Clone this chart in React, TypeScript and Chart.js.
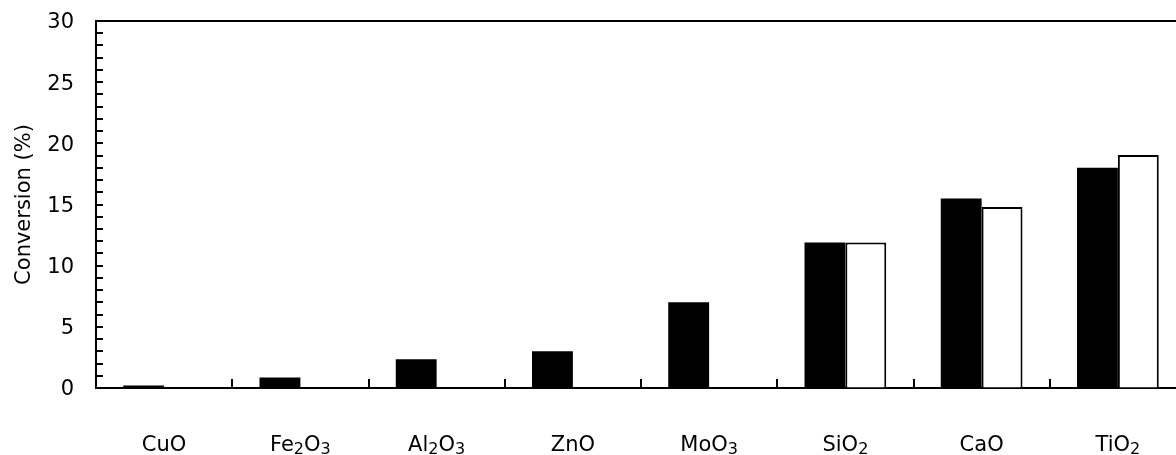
import React, { useEffect, useRef } from "react";
import { Chart, registerables } from "chart.js";

Chart.register(...registerables);

const categories = ["CuO", "Fe2O3", "Al2O3", "ZnO", "MoO3", "SiO2", "CaO", "TiO2"];
const seriesBlack = [0.2, 0.85, 2.35, 3.0, 7.0, 11.9, 15.5, 18.0];
const seriesWhite = [null, null, null, null, null, 11.9, 14.8, 19.05];
const yMin = 0;
const yMax = 30;
const yMajorStep = 5;
const yMinorStep = 1;
const yTitle = "Conversion (%)";

const FONT = "'DejaVu Sans', sans-serif";

const frameAndTicks = {
  id: "frameAndTicks",
  afterDatasetsDraw(chart: any) {
    const { ctx, chartArea, scales } = chart;
    const xs = scales.x;
    const ys = scales.y;
    ctx.save();
    ctx.strokeStyle = "#000";
    ctx.lineWidth = 2;
    ctx.beginPath();
    ctx.moveTo(chartArea.left, chartArea.top);
    ctx.lineTo(chartArea.right, chartArea.top);
    ctx.stroke();
    ctx.beginPath();
    ctx.moveTo(chartArea.right, chartArea.top);
    ctx.lineTo(chartArea.right, chartArea.bottom);
    ctx.stroke();
    for (let v = yMin; v <= yMax; v += yMinorStep) {
      const y = Math.round(ys.getPixelForValue(v));
      ctx.beginPath();
      ctx.moveTo(chartArea.left, y);
      ctx.lineTo(chartArea.left + 7, y);
      ctx.stroke();
    }
    for (let i = 1; i < categories.length; i++) {
      const x = Math.round((xs.getPixelForValue(i - 1) + xs.getPixelForValue(i)) / 2);
      ctx.beginPath();
      ctx.moveTo(x, chartArea.bottom);
      ctx.lineTo(x, chartArea.bottom - 9);
      ctx.stroke();
    }
    ctx.restore();
  },
};

const MAIN_SIZE = 21;
const SUB_SIZE = 16;

const xLabels = {
  id: "xLabels",
  afterDraw(chart: any) {
    const { ctx, scales } = chart;
    const xs = scales.x;
    ctx.save();
    ctx.fillStyle = "#000";
    ctx.textBaseline = "alphabetic";
    ctx.textAlign = "left";
    categories.forEach((label, i) => {
      const parts = label.split(/(\d+)/).filter((p) => p.length > 0);
      const segs = parts.map((p) => ({ text: p, sub: /^\d+$/.test(p) }));
      let total = 0;
      segs.forEach((s) => {
        ctx.font = `${s.sub ? SUB_SIZE : MAIN_SIZE}px ${FONT}`;
        total += ctx.measureText(s.text).width;
      });
      let x = xs.getPixelForValue(i) - total / 2;
      segs.forEach((s) => {
        ctx.font = `${s.sub ? SUB_SIZE : MAIN_SIZE}px ${FONT}`;
        ctx.fillText(s.text, x, s.sub ? 454 : 451);
        x += ctx.measureText(s.text).width;
      });
    });
    ctx.restore();
  },
};

export default function App() {
  const ref = useRef<HTMLCanvasElement | null>(null);
  useEffect(() => {
    if (!ref.current) return;
    const chart = new Chart(ref.current, {
      type: "bar",
      data: {
        labels: categories,
        datasets: [
          {
            label: "A",
            data: seriesBlack,
            backgroundColor: "#000",
            borderColor: "#000",
            borderWidth: 0,
          },
          {
            label: "B",
            data: seriesWhite as any,
            backgroundColor: "#fff",
            borderColor: "#000",
            borderWidth: 2,
          },
        ],
      },
      options: {
        responsive: false,
        animation: false,
        devicePixelRatio: 1,
        categoryPercentage: 0.6,
        barPercentage: 1.0,
        layout: { padding: { top: 21, right: 14, bottom: 0, left: 0 } },
        plugins: {
          legend: { display: false },
          tooltip: { enabled: false },
          title: { display: false },
        },
        scales: {
          x: {
            grid: { display: true, drawOnChartArea: false, drawTicks: false },
            border: { display: true, color: "#000", width: 2 },
            ticks: { display: false },
            afterFit: (s: any) => {
              s.height = 67;
            },
          },
          y: {
            min: yMin,
            max: yMax,
            grid: {
              display: true,
              drawOnChartArea: false,
              drawTicks: true,
              tickLength: 22,
              tickColor: "rgba(0,0,0,0)",
            },
            border: { display: true, color: "#000", width: 2 },
            ticks: {
              stepSize: yMajorStep,
              color: "#000",
              font: { family: FONT, size: 21 },
              padding: 0,
              labelOffset: 2,
            },
            title: {
              display: true,
              text: yTitle,
              color: "#000",
              font: { family: FONT, size: 21 },
              padding: { top: 12, bottom: 0 },
            },
            afterFit: (s: any) => {
              s.width = 96;
            },
          },
        },
      },
      plugins: [frameAndTicks, xLabels],
    });
    return () => chart.destroy();
  }, []);
  return (
    <div
      style={{
        position: "absolute",
        left: 0,
        top: 0,
        width: 1176,
        height: 455,
        overflow: "hidden",
        background: "#fff",
      }}
    >
      <canvas ref={ref} width={1200} height={455} style={{ width: 1200, height: 455, display: "block" }} />
    </div>
  );
}
